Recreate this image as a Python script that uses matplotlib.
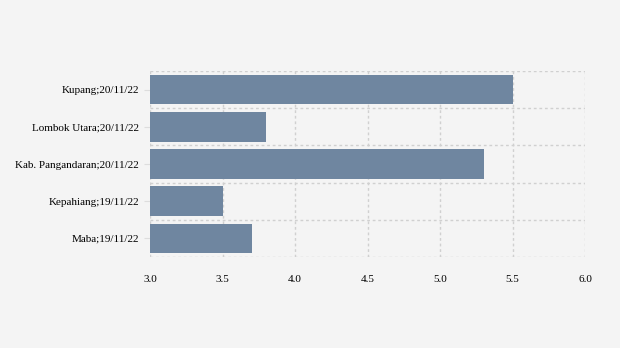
import matplotlib.pyplot as plt
import numpy as np

labels = ["Kupang;20/11/22", "Lombok Utara;20/11/22", "Kab. Pangandaran;20/11/22",
          "Kepahiang;19/11/22", "Maba;19/11/22"]
values = [5.5, 3.8, 5.3, 3.5, 3.7]
xticks = [3.0, 3.5, 4.0, 4.5, 5.0, 5.5, 6.0]

plt.rcParams['font.family'] = ['Liberation Serif', 'DejaVu Serif']

fig = plt.figure(figsize=(6.2, 3.48), dpi=100, facecolor="#f4f4f4")
ax = fig.add_axes([150/620, 1-257/348, 435/620, 186/348])
ax.set_facecolor("#f4f4f4")

y = np.arange(len(labels))
ax.barh(y, np.array(values) - 3.0, left=3.0, height=0.8, color="#6f86a0", zorder=2)

ax.set_xlim(3.0, 6.0)
ax.set_ylim(len(labels) - 0.5, -0.5)
ax.set_xticks(xticks)
ax.set_xticklabels([f"{v:.1f}" for v in xticks], fontsize=8)
ax.set_yticks(y)
ax.set_yticklabels(labels, fontsize=8)
ax.set_yticks(np.arange(len(labels) + 1) - 0.5, minor=True)

ax.grid(True, axis="x", which="major", color="#d0d0d0", linestyle=(0, (2, 2)), linewidth=1)
ax.grid(True, axis="y", which="minor", color="#d0d0d0", linestyle=(0, (2, 2)), linewidth=1)
ax.tick_params(axis="x", length=0, pad=13)
ax.tick_params(axis="y", which="major", length=4, color="#dddddd", pad=4)
ax.tick_params(axis="y", which="minor", length=0)
for s in ax.spines.values():
    s.set_visible(False)

fig.savefig("out.png", dpi=100, facecolor=fig.get_facecolor())
